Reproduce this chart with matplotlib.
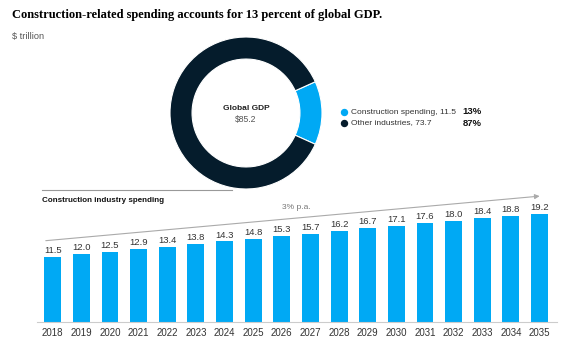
import matplotlib.pyplot as plt
from matplotlib.lines import Line2D

# data
years = [str(y) for y in range(2018, 2036)]
spending = [11.5, 12.0, 12.5, 12.9, 13.4, 13.8, 14.3, 14.8, 15.3, 15.7,
            16.2, 16.7, 17.1, 17.6, 18.0, 18.4, 18.8, 19.2]
gdp_labels = ["Construction spending, 11.5", "Other industries, 73.7"]
gdp_values = [11.5, 73.7]
gdp_shares = ["13%", "87%"]

BLUE = "#00A9F4"
NAVY = "#051C2C"
GREY = "#555555"

W, H = 583, 349
fig = plt.figure(figsize=(W / 100, H / 100), dpi=100)
plt.rcParams["font.family"] = ["Liberation Sans", "DejaVu Sans"]


def fx(px):
    return px / W


def fy(py):
    return 1 - py / H


fig.text(fx(12), fy(15), "Construction-related spending accounts for 13 percent of global GDP.",
         family="Liberation Serif", fontweight="bold", fontsize=9.0, va="center", color="#000000")
fig.text(fx(12), fy(36), "$ trillion", fontsize=6.6, va="center", color=GREY)

# donut
cx, cy, r = 246, 113, 76
box = 80
axd = fig.add_axes([fx(cx - box), fy(cy + box), 2 * box / W, 2 * box / H])
frac = gdp_values[0] / sum(gdp_values)
axd.pie(gdp_values, colors=[BLUE, NAVY], radius=r / box, startangle=-frac * 180,
        counterclock=True, wedgeprops=dict(width=0.29 * r / box, edgecolor="white", linewidth=0.8))
axd.set_xlim(-1, 1)
axd.set_ylim(-1, 1)
axd.set_aspect("equal")
axd.axis("off")
axd.text(0, 0.06, "Global GDP", ha="center", va="center", fontsize=6, fontweight="bold", color="#222222")
axd.text(0, -0.08, f"${sum(gdp_values):.1f}", ha="center", va="center", fontsize=6.2, color=GREY)

# legend
for i, (lab, share, col) in enumerate(zip(gdp_labels, gdp_shares, [BLUE, NAVY])):
    y = 112 + i * 11
    fig.add_artist(Line2D([fx(344)], [fy(y)], marker="o", markersize=4.3, color=col,
                          transform=fig.transFigure))
    fig.text(fx(351), fy(y), lab, fontsize=6, va="center", color="#333333")
    fig.text(fx(482), fy(y), share, fontsize=6.8, va="center", ha="right", fontweight="bold", color="#111111")

# separator + section title
fig.add_artist(Line2D([fx(42), fx(232)], [fy(190), fy(190)], color="#999999", lw=0.8,
                      transform=fig.transFigure))
fig.text(fx(42), fy(201), "Construction industry spending", fontsize=5.8, fontweight="bold",
         va="center", color="#111111")

# bars
scale = 5.63
ymax = 20
ax = fig.add_axes([fx(37), fy(322), (557 - 37) / W, ymax * scale / H])
x = list(range(len(years)))
ax.bar(x, spending, width=0.59, color=BLUE)
for xi, v in zip(x, spending):
    ax.text(xi, v + 0.35, f"{v:.1f}", ha="center", va="bottom", fontsize=6.8, color="#333333", clip_on=False)
ax.set_xlim(-0.55, 17.61)
ax.set_ylim(0, ymax)
ax.set_xticks(x)
ax.set_xticklabels(years, fontsize=7, color="#333333")
ax.tick_params(axis="x", length=0, pad=4)
ax.set_yticks([])
for s in ["top", "right", "left"]:
    ax.spines[s].set_visible(False)
ax.spines["bottom"].set_color("#cccccc")
ax.spines["bottom"].set_linewidth(0.8)

# trend arrow
ax.annotate("", xy=(17.1, 22.4), xytext=(-0.34, 14.4), annotation_clip=False,
            arrowprops=dict(arrowstyle="-|>", color="#aaaaaa", lw=0.8, mutation_scale=7))
ax.text(8.5, 20.3, "3% p.a.", ha="center", va="center", fontsize=6.1, color="#777777", clip_on=False)

fig.savefig("out.png", dpi=100)
